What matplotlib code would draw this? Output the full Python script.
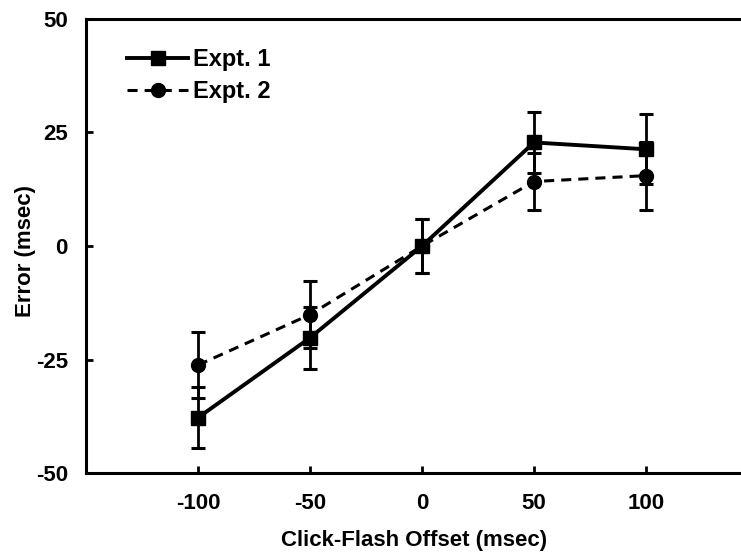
import numpy as np
import matplotlib.pyplot as plt

plt.rcParams['font.family'] = ['Liberation Sans', 'DejaVu Sans']
plt.rcParams['font.weight'] = 'bold'
plt.rcParams['axes.unicode_minus'] = False

offsets = [-100, -50, 0, 50, 100]

expt1 = [-37.8, -20.2, 0.0, 22.8, 21.3]
expt1_err = [6.7, 6.8, 5.9, 6.7, 7.7]

expt2 = [-26.2, -15.1, 0.0, 14.2, 15.5]
expt2_err = [7.3, 7.3, 5.9, 6.2, 7.5]

fig = plt.figure(figsize=(7.41, 5.56), dpi=100)
ax = fig.add_axes([0.116, 0.149, 0.907, 0.817])

# error bars first, then the lines (so the legend shows plain handles)
ax.errorbar(offsets, expt1, yerr=expt1_err, fmt='none', ecolor='black',
            elinewidth=2, capsize=4.7, capthick=2.2, zorder=2)
ax.errorbar(offsets, expt2, yerr=expt2_err, fmt='none', ecolor='black',
            elinewidth=2, capsize=4.7, capthick=2.2, zorder=2)
ax.plot(offsets, expt1, color='black', lw=2.8, marker='s', ms=10,
        label='Expt. 1', zorder=3)
ax.plot(offsets, expt2, color='black', lw=2.2, ls=(0, (3.3, 2.3)),
        marker='o', ms=10, label='Expt. 2', zorder=3)

ax.set_xlim(-150, 150)
ax.set_ylim(-50, 50)
ax.set_xticks(offsets)
ax.set_yticks([-50, -25, 0, 25, 50])
ax.tick_params(direction='in', length=5, width=2, labelsize=16)
ax.tick_params(axis='x', pad=14)
ax.tick_params(axis='y', pad=13)
for s in ax.spines.values():
    s.set_linewidth(2.2)

ax.set_xlabel('Click-Flash Offset (msec)', fontsize=16, fontweight='bold')
ax.set_ylabel('Error (msec)', fontsize=16, fontweight='bold')
ax.xaxis.set_label_coords(0.488, -0.126)
ax.yaxis.set_label_coords(-0.075, 0.49)

ax.legend(loc='upper left', frameon=False, fontsize=17, handlelength=2.6,
          handletextpad=0.2, labelspacing=0.4, borderaxespad=0,
          bbox_to_anchor=(0.047, 0.957))

plt.savefig('out.png')
